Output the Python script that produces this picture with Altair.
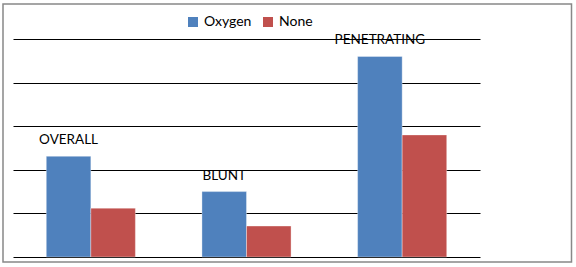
import altair as alt
import pandas as pd

categories = ["OVERALL", "BLUNT", "PENETRATING"]
series = ["Oxygen", "None"]
oxygen_values = [23.1, 15.0, 46.0]
none_values = [11.2, 7.1, 28.0]
colors = ["#4F81BD", "#C0504D"]

rows = []
for c, o, n in zip(categories, oxygen_values, none_values):
    rows.append({"category": c, "series": "Oxygen", "value": o})
    rows.append({"category": c, "series": "None", "value": n})
df = pd.DataFrame(rows)

FONT = "Lato"

x_enc = alt.X("category:N", sort=categories, axis=None,
              scale=alt.Scale(paddingInner=0, paddingOuter=0))
xo_enc = alt.XOffset("series:N", sort=series,
                     scale=alt.Scale(paddingInner=0, paddingOuter=0.747))
y_enc = alt.Y("value:Q", scale=alt.Scale(domain=[0, 50], nice=False),
              axis=alt.Axis(values=[0, 10, 20, 30, 40, 50], grid=True,
                            gridColor="#000000", gridWidth=1, gridOpacity=1,
                            labels=False, ticks=False, domain=False, title=None))

bars = alt.Chart(df).mark_bar(strokeWidth=1, stroke="white", strokeOpacity=0.35).encode(
    x=x_enc,
    xOffset=xo_enc,
    y=y_enc,
    color=alt.Color("series:N", sort=series,
                    scale=alt.Scale(domain=series, range=colors),
                    legend=alt.Legend(orient="none", direction="horizontal",
                                      legendX=173, legendY=-24, title=None,
                                      symbolType="square", symbolSize=100,
                                      symbolStrokeWidth=0, symbolOffset=0,
                                      labelFont=FONT, labelFontSize=14,
                                      labelColor="#000000", labelOffset=4,
                                      columnPadding=9, padding=0)),
)

labels = alt.Chart(df).transform_filter(alt.datum.series == "Oxygen").mark_text(
    font=FONT, fontSize=13.5, color="#000000", baseline="alphabetic", dy=-12
).encode(
    x=x_enc,
    xOffset=xo_enc,
    y=alt.Y("value:Q"),
    text="category:N",
)

border = alt.Chart(pd.DataFrame({"a": [0]})).mark_rect(
    fillOpacity=0, stroke="#888888", strokeWidth=1.5
).encode(
    x=alt.value(-10), x2=alt.value(558.5), y=alt.value(-35), y2=alt.value(223)
)

chart = alt.layer(bars, labels, border).properties(
    width=467, height=218,
    autosize=alt.AutoSizeParams(type="none"),
    padding={"left": 13, "top": 39, "right": 96, "bottom": 10},
    background="white",
).configure_view(stroke=None)

chart.save("out.html", embed_options={"renderer": "svg", "actions": False})
